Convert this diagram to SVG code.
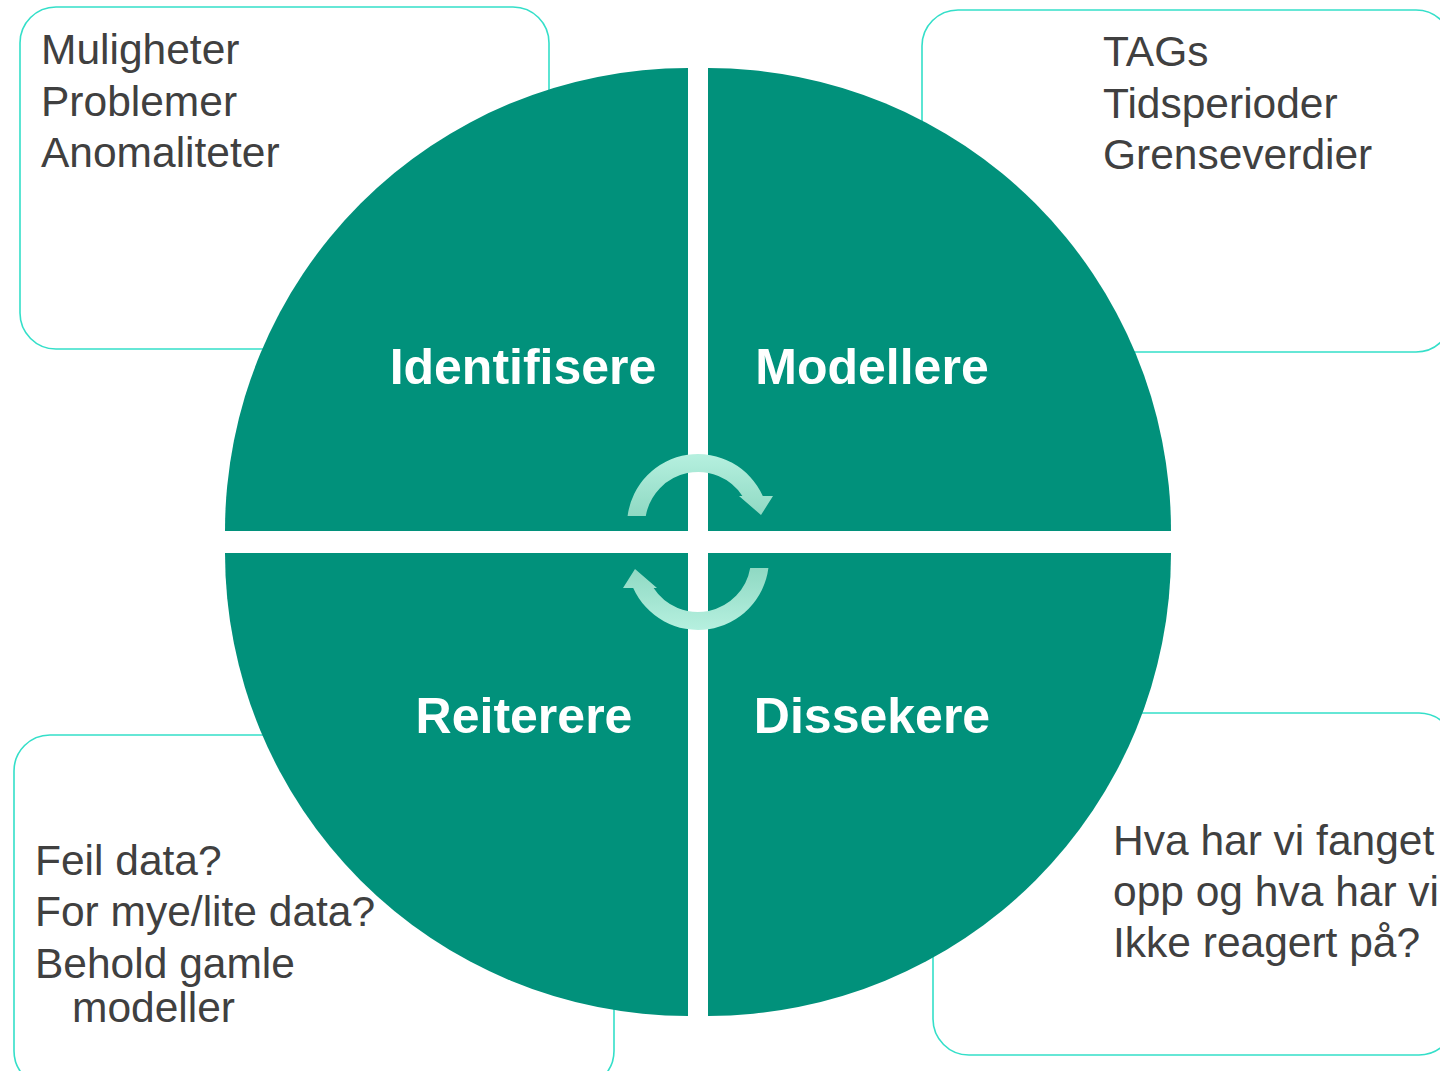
<svg xmlns="http://www.w3.org/2000/svg" width="1440" height="1071" viewBox="0 0 1440 1071">
  <defs>
    <style>
      .box { fill: #ffffff; stroke: #34dfc9; stroke-width: 1.6; }
      .quad { fill: #01917b; }
      .note { font-family: "Liberation Sans", Arial, sans-serif; font-size: 42.5px; fill: #404040; }
      .label { font-family: "Liberation Sans", Arial, sans-serif; font-size: 50px; font-weight: bold; fill: #ffffff; text-anchor: middle; }
      .cycle { fill: url(#mint); }
    </style>
    <linearGradient id="mint" x1="0" y1="0" x2="0" y2="1">
      <stop offset="0" stop-color="#b6f0df"/>
      <stop offset="1" stop-color="#8fd9c3"/>
    </linearGradient>
  </defs>

  <rect width="1440" height="1071" fill="#ffffff"/>

  <!-- note boxes behind the circle -->
  <g id="note-identify">
    <rect class="box" x="20" y="7" width="529" height="342" rx="36"/>
    <text class="note" x="41" y="64">Muligheter</text>
    <text class="note" x="41" y="115.5">Problemer</text>
    <text class="note" x="41" y="167">Anomaliteter</text>
  </g>
  <g id="note-model">
    <rect class="box" x="922" y="10" width="530" height="342" rx="36"/>
    <text class="note" x="1103" y="66">TAGs</text>
    <text class="note" x="1103" y="117.5">Tidsperioder</text>
    <text class="note" x="1103" y="169">Grenseverdier</text>
  </g>
  <g id="note-iterate">
    <rect class="box" x="14" y="735" width="600" height="352" rx="36"/>
    <text class="note" x="35" y="875">Feil data?</text>
    <text class="note" x="35" y="926">For mye/lite data?</text>
    <text class="note" x="35" y="978">Behold gamle</text>
    <text class="note" x="72" y="1022">modeller</text>
  </g>
  <g id="note-dissect">
    <rect class="box" x="933" y="713" width="522" height="342" rx="36"/>
    <text class="note" x="1113" y="855">Hva har vi fanget</text>
    <text class="note" x="1113" y="906">opp og hva har vi</text>
    <text class="note" x="1113" y="957">Ikke reagert på?</text>
  </g>

  <!-- four quarter sectors of the cycle -->
  <g id="identifisere">
    <path class="quad" d="M688 531 L225 531 A463 463 0 0 1 688 68 Z"/>
    <text class="label" x="523" y="384">Identifisere</text>
  </g>
  <g id="modellere">
    <path class="quad" d="M708 531 L708 68 A463 463 0 0 1 1171 531 Z"/>
    <text class="label" x="872" y="384">Modellere</text>
  </g>
  <g id="reiterere">
    <path class="quad" d="M688 553 L688 1016 A463 463 0 0 1 225 553 Z"/>
    <text class="label" x="524" y="733">Reiterere</text>
  </g>
  <g id="dissekere">
    <path class="quad" d="M708 553 L1171 553 A463 463 0 0 1 708 1016 Z"/>
    <text class="label" x="872" y="733">Dissekere</text>
  </g>

  <!-- circular arrows in the middle -->
  <g id="connectors">
    <path class="cycle" d="M627.6 516 A71 71 0 0 1 762.8 496 L773 496 L761 515 L739 496 L742.4 496 A53 53 0 0 0 645.8 516 Z"/>
    <path class="cycle" transform="rotate(180 698 542)" d="M627.6 516 A71 71 0 0 1 762.8 496 L773 496 L761 515 L739 496 L742.4 496 A53 53 0 0 0 645.8 516 Z"/>
  </g>
</svg>
